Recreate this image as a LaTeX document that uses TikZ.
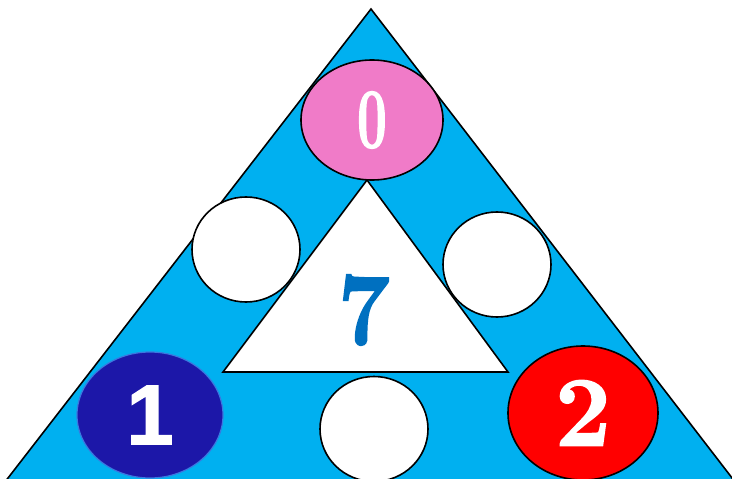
\documentclass[tikz,border=0pt]{standalone}
\usepackage{fontspec}
\usepackage{graphicx}
\usetikzlibrary{shapes.geometric,positioning}
\newfontfamily\digitsans{Liberation Sans}[BoldFeatures={FakeBold=1.5}]
\newfontfamily\digitserif{Latin Modern Roman}[BoldFeatures={FakeBold=2}]
\definecolor{sky}{HTML}{00B0F0}
\definecolor{rosy}{HTML}{F07BC8}
\definecolor{navy}{HTML}{1C17A8}
\definecolor{navyrim}{HTML}{3A78E0}
\definecolor{bright}{HTML}{FF0000}
\definecolor{seven}{HTML}{0070C0}

\begin{document}
\begin{tikzpicture}[
      x=1pt, y=-1pt,
      outline/.style={draw=black, line width=1.6pt, line join=miter},
      slot/.style={ellipse, draw=black, line width=1.6pt, fill=white, inner sep=0pt,
                   minimum width=108pt, minimum height=105pt},
      corner/.style={ellipse, inner sep=0pt, text=white, font=\bfseries}
    ]
      \useasboundingbox (0,0) rectangle (732,479);
      \clip (0,0) rectangle (732,479);

      % Triangles
      \coordinate (top) at (371,9);
      \coordinate (left) at (-9,500);
      \coordinate (right) at (749,500);
      \fill[sky] (top) -- (left) -- (right) -- cycle;
      \draw[outline] (left) -- (top) -- (right);
      \coordinate (itop) at (367,180);
      \coordinate (ileft) at (223,372);
      \coordinate (iright) at (508,372);
      \draw[outline, fill=white] (itop) -- (ileft) -- (iright) -- cycle;

      % Middle number
      \node[text=seven, font=\digitserif\bfseries\fontsize{102}{102}\selectfont, inner sep=0pt]
        (sum) at (364,310) {\scalebox{0.9}[1]{7}};

      % Empty slots
      \node[slot] (slotleft) at (246,249.5) {};
      \node[slot] (slotright) at (497,264.5) {};
      \node[slot] (slotbottom) at (374,429) {};

      % Corners
      \node[corner, draw=black, line width=1.6pt, fill=rosy,
            minimum width=142pt, minimum height=120pt] (zero) at (372,120)
        {\digitserif\bfseries\fontsize{85}{85}\selectfont\scalebox{0.62}[1]{0}};
      \node[corner, draw=navyrim, line width=1.2pt, fill=navy,
            minimum width=146pt, minimum height=126pt] (one) at (150,415)
        {\digitsans\bfseries\fontsize{85}{85}\selectfont 1};
      \node[corner, draw=black, line width=1.6pt, fill=bright,
            minimum width=150pt, minimum height=134pt] (two) at (583,413)
        {\digitserif\bfseries\fontsize{99}{99}\selectfont 2};
    \end{tikzpicture}
\end{document}
